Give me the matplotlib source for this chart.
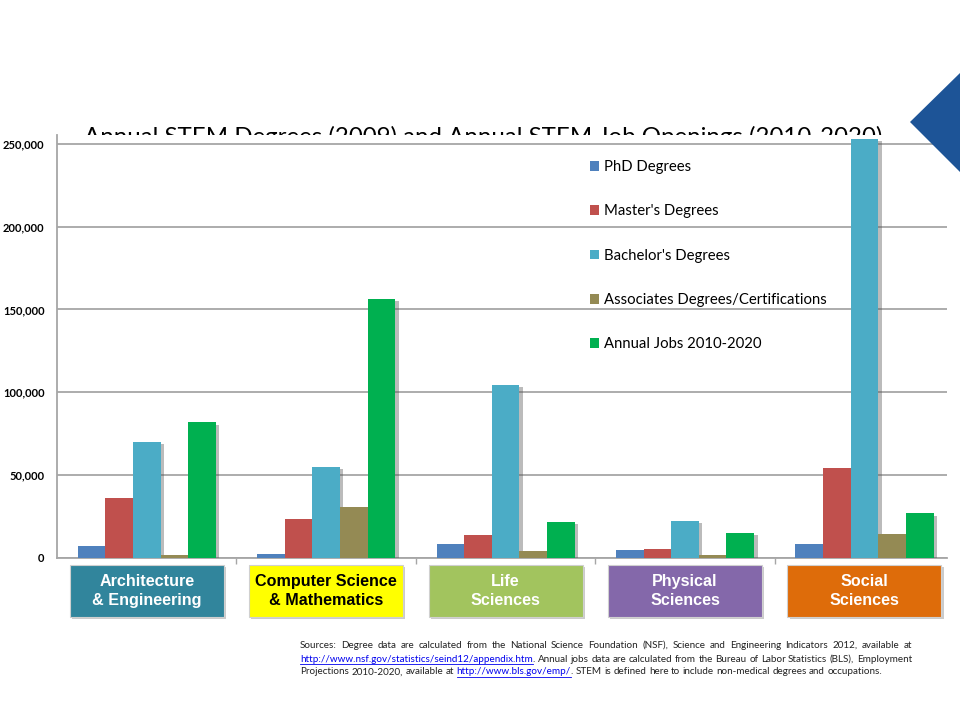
import matplotlib
matplotlib.use('Agg')
import matplotlib.pyplot as plt
import matplotlib.patheffects as pe
from matplotlib.patches import Rectangle, Polygon, Patch
from matplotlib.lines import Line2D
from matplotlib.transforms import blended_transform_factory
import numpy as np
import re

# ---- data ----
categories = ['Architecture\n& Engineering', 'Computer Science\n& Mathematics',
              'Life\nSciences', 'Physical\nSciences', 'Social\nSciences']
box_colors = ['#31859C', '#FFFF00', '#A2C45E', '#8468AA', '#DE6C0A']
box_text_colors = ['white', 'black', 'white', 'white', 'white']

series_names = ["PhD Degrees", "Master's Degrees", "Bachelor's Degrees",
                "Associates Degrees/Certifications", "Annual Jobs 2010-2020"]
series_colors = ['#4F81BD', '#C0504D', '#4BACC6', '#948A54', '#00B050']

phd = [7500, 2500, 8200, 4800, 8200]
masters = [36000, 23300, 14000, 5200, 54300]
bachelors = [70300, 54700, 104400, 22300, 253000]
associates = [2000, 31000, 4200, 2000, 14500]
jobs = [81800, 156300, 21700, 15300, 26900]

yticks = [0, 50000, 100000, 150000, 200000, 250000]

title = 'Annual STEM Degrees (2009) and Annual STEM Job Openings (2010-2020)'
sources = [
    "Sources: Degree data are calculated from the National Science Foundation (NSF), "
    "Science and Engineering Indicators 2012, available at",
    "[http://www.nsf.gov/statistics/seind12/appendix.htm]. Annual jobs data are calculated "
    "from the Bureau of Labor Statistics (BLS), Employment",
    "Projections 2010-2020, available at [http://www.bls.gov/emp/]. STEM is defined here "
    "to include non-medical degrees and occupations.",
]

W, H = 960, 720
fig = plt.figure(figsize=(9.6, 7.2), dpi=100)
fig.patch.set_facecolor('white')

ax = fig.add_axes([57 / W, 1 - 558 / H, 890 / W, 423 / H])
ax.set_facecolor('white')

# title sits behind the plot area, so its lower part gets hidden
fig.text(483 / W, 1 - 143.5 / H, title, ha='center', va='baseline', fontsize=17.3,
         family=['Lato', 'DejaVu Sans'], color='black', zorder=-5)

all_series = [phd, masters, bachelors, associates, jobs]
x = np.arange(len(categories))
bw = 0.154
shadow = [pe.SimplePatchShadow(offset=(2.5, -1.5), shadow_rgbFace='#555555', alpha=0.4),
          pe.Normal()]
for i, (vals, name, col) in enumerate(zip(all_series, series_names, series_colors)):
    bars = ax.bar(x + (i - 2) * bw, vals, bw, color=col, label=name, zorder=3)
    for b in bars:
        b.set_path_effects(shadow)

ax.set_xlim(-0.5, 4.46)
ax.set_ylim(0, 255300)
ax.set_yticks(yticks)
ax.set_yticklabels(['{:,}'.format(v) for v in yticks], fontsize=8, fontweight='bold',
                   family=['Lato', 'DejaVu Sans'])
ax.tick_params(axis='y', length=0, pad=9)
ax.yaxis.grid(True, color='#A6A6A6', linewidth=1.3, zorder=0)
ax.set_axisbelow(True)
ax.set_xticks([0.5, 1.5, 2.5, 3.5])
ax.set_xticklabels([])
ax.tick_params(axis='x', length=4, color='#A6A6A6', width=1)
for s in ['top', 'right']:
    ax.spines[s].set_visible(False)
for s in ['left', 'bottom']:
    ax.spines[s].set_color('#A6A6A6')
    ax.spines[s].set_linewidth(1.3)

# category label boxes
trans = blended_transform_factory(ax.transData, fig.transFigure)
bx_w = 0.858
y0, y1 = 1 - 617 / H, 1 - 565 / H
for xi, lab, bc, tc in zip(x, categories, box_colors, box_text_colors):
    r = Rectangle((xi - bx_w / 2, y0), bx_w, y1 - y0, transform=trans, facecolor=bc,
                  edgecolor='#D0D0D0', linewidth=0.8, clip_on=False, zorder=4)
    r.set_path_effects([pe.SimplePatchShadow(offset=(1.5, -1.5), shadow_rgbFace='#999999',
                                             alpha=0.5), pe.Normal()])
    fig.add_artist(r)
    t = fig.text(0, 0, lab, transform=trans, ha='center', va='center', fontsize=11.6,
                 fontweight='bold', color=tc, linespacing=1.38,
                 family=['Liberation Sans', 'DejaVu Sans'], zorder=5)
    t.set_position((xi, 1 - 591 / H))

# legend (plain handles, no shadow)
handles = [Patch(facecolor=c, edgecolor='none') for c in series_colors]
leg = ax.legend(handles, series_names, loc='upper left',
                bbox_to_anchor=(590 / W, 1 - 160 / H),
                bbox_transform=fig.transFigure, frameon=False,
                prop={'family': ['Lato', 'DejaVu Sans'], 'size': 10.7},
                handlelength=0.62, handleheight=0.62, handletextpad=0.35,
                labelspacing=2.04, borderpad=0, borderaxespad=0)

# blue triangle, top right
fig.add_artist(Polygon([(960 / W, 1 - 73 / H), (910 / W, 1 - 122 / H), (960 / W, 1 - 172 / H)],
                       closed=True, transform=fig.transFigure, facecolor='#1D5497',
                       edgecolor='none'))

# sources note, justified like the original
renderer = fig.canvas.get_renderer()
src_kw = dict(fontsize=7.1, family=['Lato', 'DejaVu Sans'])


def width_of(s):
    t = fig.text(0, 0, s, **src_kw)
    w = t.get_window_extent(renderer).width
    t.remove()
    return w


space_w = width_of('x x') - width_of('xx')
left, right = 300, 912
line_y = [645, 659, 672]
for li, line in enumerate(sources):
    words = line.split(' ')
    pieces = []
    for w in words:
        parts = [p for p in re.split(r'(\[[^\]]*\])', w) if p]
        pieces.append([(p.strip('[]'), p.startswith('[')) for p in parts])
    wwidths = [sum(width_of(t) for t, _ in wp) for wp in pieces]
    if li < len(sources) - 1:
        gap = (right - left - sum(wwidths)) / (len(words) - 1)
    else:
        gap = space_w
    cx = left
    yy = 1 - line_y[li] / H
    for wp, ww in zip(pieces, wwidths):
        px = cx
        for t, is_link in wp:
            tw = width_of(t)
            fig.text(px / W, yy, t, va='center', ha='left',
                     color='#0000EE' if is_link else '#222222', **src_kw)
            if is_link:
                fig.add_artist(Line2D([px / W, (px + tw) / W], [yy - 5 / H, yy - 5 / H],
                                      transform=fig.transFigure, color='#0000EE', linewidth=0.6))
            px += tw
        cx += ww + gap

fig.savefig('out.png', dpi=100, facecolor='white')
